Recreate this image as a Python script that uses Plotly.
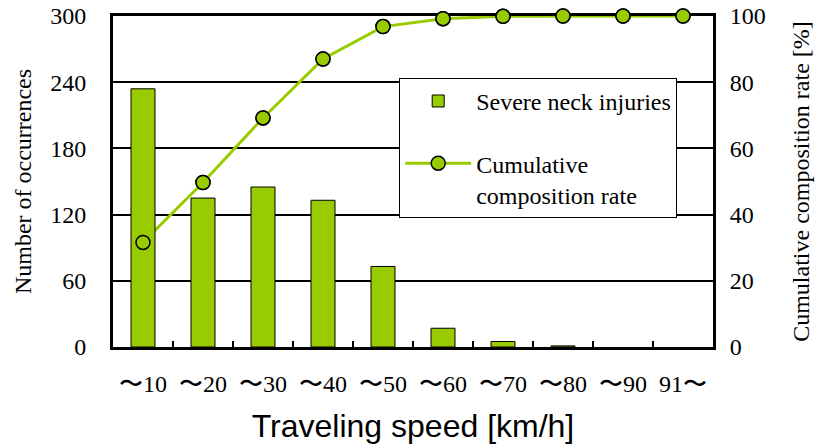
import plotly.graph_objects as go

categories = ["〜10", "〜20", "〜30", "〜40", "〜50", "〜60", "〜70", "〜80", "〜90", "91〜"]
injuries = [234, 135, 145, 133, 73, 17, 5, 1, 0, 0]
cumulative = [31.6, 49.7, 69.2, 87.0, 96.8, 99.2, 99.9, 100, 100, 100]
count_ticks = [0, 60, 120, 180, 240, 300]
rate_ticks = [0, 20, 40, 60, 80, 100]

GREEN = "#99CC00"
SERIF = "Liberation Serif"
SANS = "Liberation Sans"

marker_style = dict(size=14, color=GREEN, line=dict(color="black", width=1.5))
bar_outline = [1 if v > 0 else 0 for v in injuries]

fig = go.Figure()
fig.add_trace(go.Bar(
    x=categories, y=injuries, yaxis="y2", name="Severe neck injuries",
    marker=dict(color=GREEN, line=dict(color="black", width=bar_outline)),
    width=0.4, legendgroup="a",
))
# line (drawn beneath the bars)
fig.add_trace(go.Scatter(
    x=categories, y=cumulative, yaxis="y", name="Cumulative<br>composition rate",
    mode="lines+markers",
    line=dict(color=GREEN, width=3),
    marker=marker_style,
    cliponaxis=False, legendgroup="b",
))
# markers on top of the bars
fig.add_trace(go.Scatter(
    x=categories, y=cumulative, yaxis="y3", mode="markers",
    marker=marker_style, cliponaxis=False, showlegend=False, hoverinfo="skip",
))

fig.update_layout(
    width=817, height=446,
    margin=dict(l=113, r=104, t=16, b=99),
    paper_bgcolor="white", plot_bgcolor="white",
    font=dict(family=SERIF, size=24, color="black"),
    showlegend=True,
    legend=dict(
        x=0.477, y=0.813, xanchor="left", yanchor="top",
        bgcolor="white", bordercolor="black", borderwidth=1,
        font=dict(family=SERIF, size=24, color="black"),
        traceorder="grouped", tracegroupgap=28, valign="top", itemwidth=66,
    ),
    xaxis=dict(
        type="category", range=[-0.5, 9.5], automargin=False,
        showline=True, linewidth=3, linecolor="black", mirror=True,
        ticks="inside", tickson="boundaries", ticklen=6, tickwidth=1.5, tickcolor="black",
        tickfont=dict(family=SERIF, size=24), ticklabelstandoff=13,
        showgrid=False, layer="below traces",
        title=dict(text="Traveling speed [km/h]", font=dict(family=SANS, size=32), standoff=19),
    ),
    yaxis=dict(
        side="right", range=[0, 100], tickvals=rate_ticks, automargin=False,
        showgrid=True, gridcolor="black", gridwidth=1.5,
        showline=True, linewidth=3, linecolor="black",
        ticks="", zeroline=False, layer="below traces",
        tickfont=dict(family=SERIF, size=24), ticklabelstandoff=9,
        title=dict(text="Cumulative composition rate [%]", font=dict(family=SERIF, size=24), standoff=28),
    ),
    yaxis2=dict(
        side="left", overlaying="y", range=[0, 300], tickvals=count_ticks, automargin=False,
        showgrid=False, showline=True, linewidth=3, linecolor="black",
        ticks="", zeroline=False, layer="below traces",
        tickfont=dict(family=SERIF, size=24), ticklabelstandoff=19,
        title=dict(text="Number of occurrences", font=dict(family=SERIF, size=24), standoff=12),
    ),
    yaxis3=dict(
        overlaying="y", range=[0, 100], visible=False, automargin=False,
    ),
)

fig.write_html("out.html", config={"displayModeBar": False},
               post_script="document.body.style.margin='0';")
